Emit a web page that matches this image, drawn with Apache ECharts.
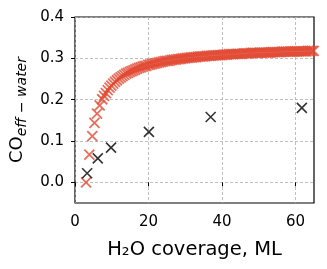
<!DOCTYPE html>
<html>
<head>
<meta charset="utf-8">
<script src="https://cdn.jsdelivr.net/npm/echarts@6/dist/echarts.min.js"></script>
<style>
html,body{margin:0;padding:0;background:#fff;}
#c{width:327px;height:269px;}
</style>
</head>
<body>
<div id="c"></div>
<script>
// Model curve (red)
const modelX = [3.0,3.9,4.7,5.3,6.0,6.7,7.4,7.9,8.4,8.9,9.4,9.9,10.4,10.9,11.4,11.9,12.4,12.9,13.4,13.9,14.4,14.9,15.4,15.9,16.4,16.9,17.4,17.9,18.4,18.9,19.4,19.9,20.4,20.9,21.4,21.9,22.4,22.9,23.4,23.9,24.4,24.9,25.4,25.9,26.4,26.9,27.4,27.9,28.4,28.9,29.4,29.9,30.4,30.9,31.4,31.9,32.4,32.9,33.4,33.9,34.4,34.9,35.4,35.9,36.4,36.9,37.4,37.9,38.4,38.9,39.4,39.9,40.4,40.9,41.4,41.9,42.4,42.9,43.4,43.9,44.4,44.9,45.4,45.9,46.4,46.9,47.4,47.9,48.4,48.9,49.4,49.9,50.4,50.9,51.4,51.9,52.4,52.9,53.4,53.9,54.4,54.9,55.4,55.9,56.4,56.9,57.4,57.9,58.4,58.9,59.4,59.9,60.4,60.9,61.4,61.9,62.4,62.9,63.4,63.9,64.4,64.9];
const modelY = [0.000,0.067,0.112,0.144,0.166,0.186,0.201,0.209,0.216,0.223,0.229,0.234,0.239,0.243,0.247,0.251,0.254,0.257,0.260,0.263,0.265,0.267,0.269,0.271,0.273,0.275,0.277,0.278,0.280,0.281,0.282,0.284,0.285,0.286,0.287,0.288,0.289,0.290,0.291,0.292,0.293,0.294,0.294,0.295,0.296,0.297,0.297,0.298,0.298,0.299,0.300,0.300,0.301,0.301,0.302,0.302,0.303,0.303,0.304,0.304,0.305,0.305,0.305,0.306,0.306,0.306,0.307,0.307,0.307,0.308,0.308,0.308,0.309,0.309,0.309,0.310,0.310,0.310,0.310,0.311,0.311,0.311,0.311,0.312,0.312,0.312,0.312,0.313,0.313,0.313,0.313,0.313,0.314,0.314,0.314,0.314,0.314,0.314,0.315,0.315,0.315,0.315,0.315,0.315,0.316,0.316,0.316,0.316,0.316,0.316,0.316,0.317,0.317,0.317,0.317,0.317,0.317,0.317,0.318,0.318,0.318,0.318];
// Measured points (black)
const measX = [3.3,6.2,9.8,20.1,36.9,61.7];
const measY = [0.022,0.058,0.084,0.122,0.158,0.180];
// Ticks
const xTicks = [0,20,40,60];
const yTicks = [0,0.1,0.2,0.3,0.4];
const yTickLabels = ['0.0','0.1','0.2','0.3','0.4'];

const xSym = 'path://M0,0L10,10M0,10L10,0';
const font = 'DejaVu Sans';
const chart = echarts.init(document.getElementById('c'), null, {renderer:'canvas'});
const gridLine = {show:true, lineStyle:{color:'#b0b0b0', type:[3,2], width:0.8}};
chart.setOption({
  animation:false,
  backgroundColor:'#fff',
  grid:{left:75, right:13, top:17, bottom:66, show:true, borderColor:'#000', borderWidth:1.2, backgroundColor:'transparent'},
  xAxis:{
    type:'value', min:0, max:65,
    axisLine:{show:false},
    axisTick:{show:true, customValues:xTicks, length:4, lineStyle:{color:'#000', width:1}},
    axisLabel:{customValues:xTicks, color:'#000', fontFamily:font, fontSize:15, margin:12},
    splitLine:gridLine,
    name:'H₂O coverage, ML', nameLocation:'middle', nameGap:37,
    nameTextStyle:{color:'#000', fontFamily:font, fontSize:19.5}
  },
  yAxis:{
    type:'value', min:-0.05, max:0.4,
    axisLine:{show:false},
    axisTick:{show:true, customValues:yTicks, length:4, lineStyle:{color:'#000', width:1}},
    axisLabel:{customValues:yTicks, color:'#000', fontFamily:font, fontSize:15, margin:11,
      formatter:(v)=>{const i=yTicks.findIndex(t=>Math.abs(t-v)<1e-9); return i>=0?yTickLabels[i]:'';}},
    splitLine:gridLine,
    name:'{a|CO}{b|eff − water}', nameLocation:'middle', nameGap:46, nameRotate:90,
    nameTextStyle:{color:'#000', fontFamily:font,
      rich:{
        a:{fontSize:18, fontFamily:font, color:'#000', lineHeight:21, verticalAlign:'top'},
        b:{fontSize:14, fontFamily:font, fontStyle:'italic', color:'#000', lineHeight:16, verticalAlign:'bottom'}
      }}
  },
  series:[
    {type:'scatter', data:modelX.map((x,i)=>[x,modelY[i]]), symbol:xSym, symbolSize:10,
     itemStyle:{color:'#E24A33', borderColor:'#E24A33', borderWidth:1.8}, clip:true, z:2},
    {type:'scatter', data:measX.map((x,i)=>[x,measY[i]]), symbol:xSym, symbolSize:10,
     itemStyle:{color:'#000', borderColor:'#000', borderWidth:1.6}, clip:true, z:3}
  ]
});
</script>
</body>
</html>
